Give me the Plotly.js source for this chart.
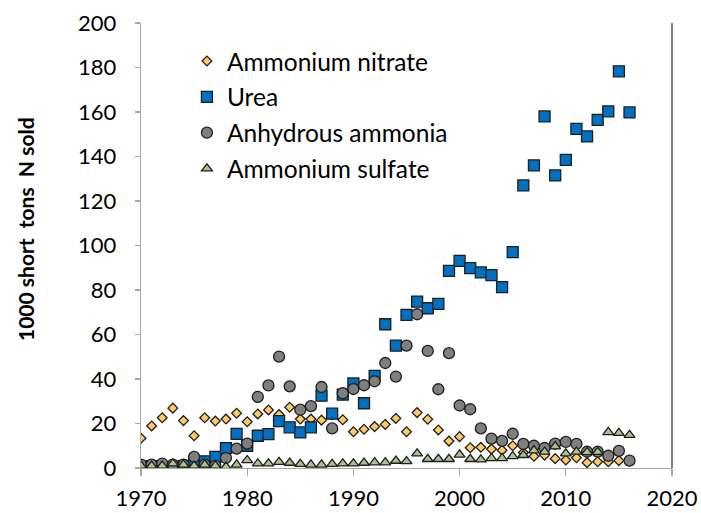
<!DOCTYPE html>
<html>
<head>
<meta charset="utf-8">
<script src="https://cdn.plot.ly/plotly-3.0.1.min.js"></script>
<style>
  html, body { margin: 0; padding: 0; background: #ffffff; }
  #chart { width: 701px; height: 513px; }
</style>
</head>
<body>
<div id="chart"></div>
<script>
// Years of record
const years = [1970,1971,1972,1973,1974,1975,1976,1977,1978,1979,
               1980,1981,1982,1983,1984,1985,1986,1987,1988,1989,
               1990,1991,1992,1993,1994,1995,1996,1997,1998,1999,
               2000,2001,2002,2003,2004,2005,2006,2007,2008,2009,
               2010,2011,2012,2013,2014,2015,2016];

// 1000 short tons N sold
const ammoniumNitrate = [13.4,18.9,22.6,26.9,21.3,14.5,22.6,21.1,22.0,24.6,
                         20.8,24.3,26.1,24.0,27.3,22.0,22.0,21.5,24.0,21.7,
                         16.3,17.4,18.6,19.6,22.3,16.3,24.9,21.9,17.1,12.1,
                         14.1,9.1,9.3,8.5,8.0,10.0,7.0,5.3,5.8,4.2,
                         3.6,4.6,2.4,2.8,2.8,3.3,3.3];

const urea = [0.5,0.8,0.3,0.0,1.0,2.0,3.0,5.0,8.9,15.3,
              10.0,14.5,15.2,21.1,18.3,16.0,18.3,32.5,24.4,33.0,
              38.0,29.1,41.4,64.6,55.0,68.8,74.8,71.8,73.8,88.6,
              93.1,89.8,87.9,86.7,81.3,97.0,127.0,136.0,158.0,131.5,
              138.5,152.4,149.0,156.5,160.3,178.3,159.8];

const anhydrousAmmonia = [1.5,1.5,2.0,1.5,1.5,5.0,1.5,1.0,4.5,8.7,
                          11.0,32.0,37.1,50.1,36.7,26.2,27.8,36.4,17.8,33.6,
                          35.5,37.2,39.0,47.2,41.1,55.0,69.1,52.6,35.4,51.6,
                          28.1,26.4,17.8,13.2,12.2,15.4,10.8,10.0,9.0,11.0,
                          11.7,10.8,7.3,7.4,5.5,7.7,3.3];

const ammoniumSulfate = [1.0,1.0,1.0,2.0,1.5,1.0,1.5,1.0,0.5,1.5,
                         3.5,2.0,2.0,2.7,2.3,1.8,1.5,1.5,1.8,2.0,
                         2.0,2.3,2.5,2.5,3.2,3.0,6.5,4.0,4.0,4.0,
                         6.0,4.0,3.8,4.4,4.4,5.3,5.8,7.9,7.3,9.7,
                         6.5,7.3,7.1,7.2,16.1,15.7,14.8];

const seriesNames = ["Ammonium nitrate","Urea","Anhydrous ammonia","Ammonium sulfate"];
const xTickVals = [1970,1980,1990,2000,2010,2020];
const yTickVals = [0,20,40,60,80,100,120,140,160,180,200];
const yTitle = "1000 short\u00a0 tons\u00a0 N sold";

const FONT = "Lato, 'Open Sans', sans-serif";
const edge = {color: "#1e1e1e", width: 1.3};

const traces = [
  {x: years, y: ammoniumNitrate, name: seriesNames[0], legendgroup: "a",
   type: "scatter", mode: "markers",
   marker: {symbol: "diamond", size: 7.5, color: "#ffc966", line: edge}},
  {x: years, y: urea, name: seriesNames[1], legendgroup: "b",
   type: "scatter", mode: "markers",
   marker: {symbol: "square", size: 11, color: "#0070c0", line: edge}},
  {x: years, y: anhydrousAmmonia, name: seriesNames[2], legendgroup: "c",
   type: "scatter", mode: "markers",
   marker: {symbol: "circle", size: 11, color: "#7f7f7f", line: edge}},
  {x: years, y: ammoniumSulfate, name: seriesNames[3], legendgroup: "d",
   type: "scatter", mode: "markers",
   marker: {symbol: "triangle-up", size: 9.5, color: "#a9c38e", line: edge}}
];

const axisCommon = {
  showgrid: false, zeroline: false, showline: true,
  linecolor: "#a6a6a6", linewidth: 1.3,
  ticks: "outside", tickcolor: "#a6a6a6", tickwidth: 1.3,
  tickfont: {family: FONT, size: 22, color: "#000000"}
};

const layout = {
  width: 701, height: 513,
  margin: {l: 141, r: 29, t: 23, b: 45},
  paper_bgcolor: "#ffffff", plot_bgcolor: "#ffffff",
  font: {family: FONT, color: "#000000"},
  showlegend: true,
  legend: {
    x: 0.0865, y: 0.965, xanchor: "left", yanchor: "top",
    bgcolor: "rgba(0,0,0,0)", borderwidth: 0,
    font: {family: FONT, size: 24.5, color: "#000000"},
    tracegroupgap: 1
  },
  xaxis: Object.assign({}, axisCommon, {
    range: [1970, 2020], tickmode: "array", tickvals: xTickVals,
    ticklen: 7, ticklabelstandoff: 3
  }),
  yaxis: Object.assign({}, axisCommon, {
    range: [0, 200], tickmode: "array", tickvals: yTickVals,
    ticklen: 5, ticklabelstandoff: 14
  }),
  shapes: [
    {type: "line", xref: "paper", yref: "paper", x0: 1, x1: 1, y0: 0, y1: 1,
     line: {color: "#3a3a3a", width: 1.3}}
  ],
  annotations: [
    {text: yTitle, xref: "paper", yref: "paper", x: -0.2185, y: 0.537,
     xanchor: "center", yanchor: "middle", textangle: -90, showarrow: false,
     font: {family: FONT, size: 21, color: "#000000", weight: "bold"}}
  ]
};

Plotly.newPlot("chart", traces, layout, {displayModeBar: false, staticPlot: true});
</script>
</body>
</html>
